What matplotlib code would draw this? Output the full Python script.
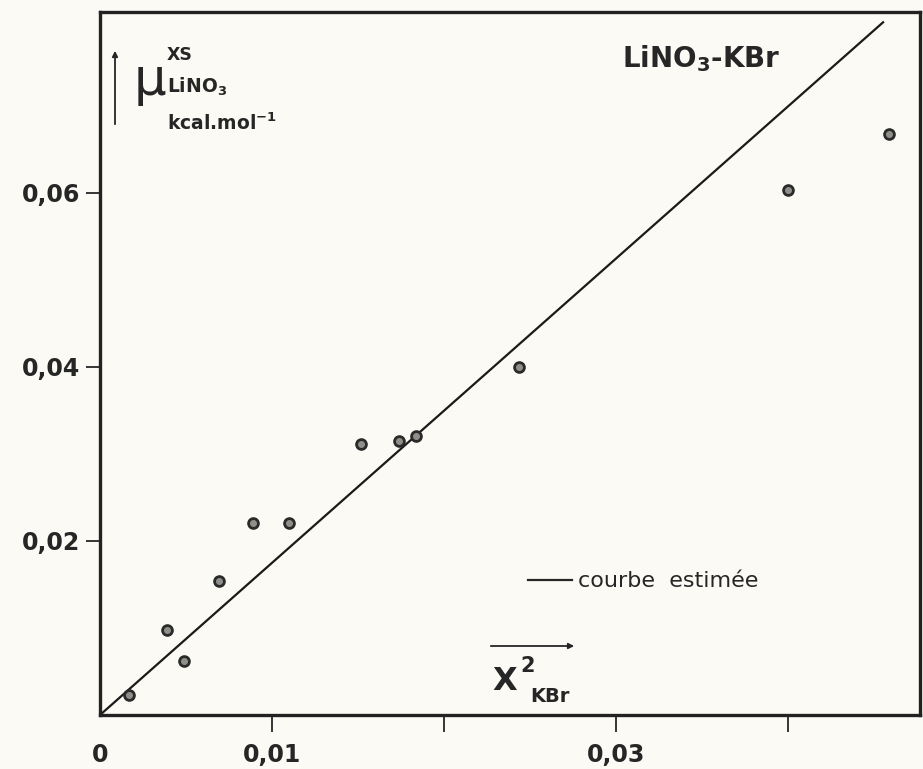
import numpy as np
import matplotlib
matplotlib.use("Agg")
import matplotlib.pyplot as plt

plt.rcParams['font.family'] = ['DejaVu Sans']
plt.rcParams['mathtext.fontset'] = 'dejavusans'
plt.rcParams['mathtext.default'] = 'bf'

# measured points (x = X^2 KBr, y = mu XS LiNO3 in kcal/mol)
x_pts = [0.0017, 0.0039, 0.0049, 0.0069, 0.0089, 0.0110, 0.0152, 0.0174, 0.0184, 0.0244, 0.0400, 0.0459]
y_pts = [0.0023, 0.0098, 0.0062, 0.0154, 0.0221, 0.0221, 0.0311, 0.0315, 0.0321, 0.0400, 0.0603, 0.0668]

# estimated curve (straight line)
line_x = [0.0, 0.0456]
line_y = [0.0, 0.0797]

xticks = [0.0, 0.01, 0.02, 0.03, 0.04]
xticklabels = ["0", "0,01", "", "0,03", ""]
yticks = [0.02, 0.04, 0.06]
yticklabels = ["0,02", "0,04", "0,06"]

W, H = 923, 769
bg = '#fbfaf4'
ink = '#262626'
fig = plt.figure(figsize=(W / 100, H / 100), dpi=100, facecolor=bg)
ax = fig.add_axes([100 / W, 1 - 715 / H, 820 / W, 703 / H], facecolor=bg)

ax.plot(line_x, line_y, color='#1a1a1a', lw=1.6, solid_capstyle='butt')
ax.scatter(x_pts, y_pts, s=50, facecolor='#8f8f8a', edgecolor='#2a2a2a', linewidth=2.0, zorder=3)

ax.set_xlim(0, 0.0477)
ax.set_ylim(0, 0.0808)

ax.set_xticks(xticks)
ax.set_xticklabels(xticklabels)
ax.set_yticks(yticks)
ax.set_yticklabels(yticklabels)
ax.xaxis.get_major_ticks()[0].tick1line.set_visible(False)
ax.tick_params(axis='x', direction='out', length=12, width=1.3, pad=8, labelsize=17, colors=ink)
ax.tick_params(axis='y', direction='out', length=10, width=1.3, pad=4, labelsize=17, colors=ink)
for lab in ax.get_xticklabels() + ax.get_yticklabels():
    lab.set_fontweight('bold')

for sp in ax.spines.values():
    sp.set_linewidth(2.4)
    sp.set_color('#222222')


def ft(x, y, s, **kw):
    fig.text(x / W, 1 - y / H, s, color=ink, **kw)


# y-axis label with upward arrow
fig.add_artist(matplotlib.patches.FancyArrowPatch(
    (115 / W, 1 - 127 / H), (115 / W, 1 - 48 / H), transform=fig.transFigure,
    arrowstyle='-|>', mutation_scale=8, lw=1.3, color=ink))
ft(134, 95, "μ", fontsize=37, ha='left', va='baseline')
ft(167, 60, "XS", fontsize=12.5, fontweight='bold', ha='left', va='baseline')
ft(167, 93, "LiNO$_3$", fontsize=13.5, fontweight='bold', ha='left', va='baseline')
ft(167, 130, "kcal.mol$^{-1}$", fontsize=13.5, fontweight='bold', ha='left', va='baseline')

# title
ft(622, 67, "LiNO$_3$-KBr", fontsize=20, fontweight='bold', ha='left', va='baseline')

# legend entry
fig.add_artist(matplotlib.lines.Line2D([528 / W, 572 / W], [1 - 580 / H, 1 - 580 / H],
                                       color=ink, lw=1.6))
ft(578, 587, "courbe  estimée", fontsize=16, ha='left', va='baseline')

# x-axis label with right arrow
fig.add_artist(matplotlib.patches.FancyArrowPatch(
    (488 / W, 1 - 646 / H), (577 / W, 1 - 646 / H), transform=fig.transFigure,
    arrowstyle='-|>', mutation_scale=8, lw=1.3, color=ink))
ft(492, 690, "X", fontsize=23, fontweight='bold', ha='left', va='baseline')
ft(520, 672, "2", fontsize=15, fontweight='bold', ha='left', va='baseline')
ft(530, 702, "KBr", fontsize=14, fontweight='bold', ha='left', va='baseline')

fig.savefig("out.png", dpi=100, facecolor=bg)
